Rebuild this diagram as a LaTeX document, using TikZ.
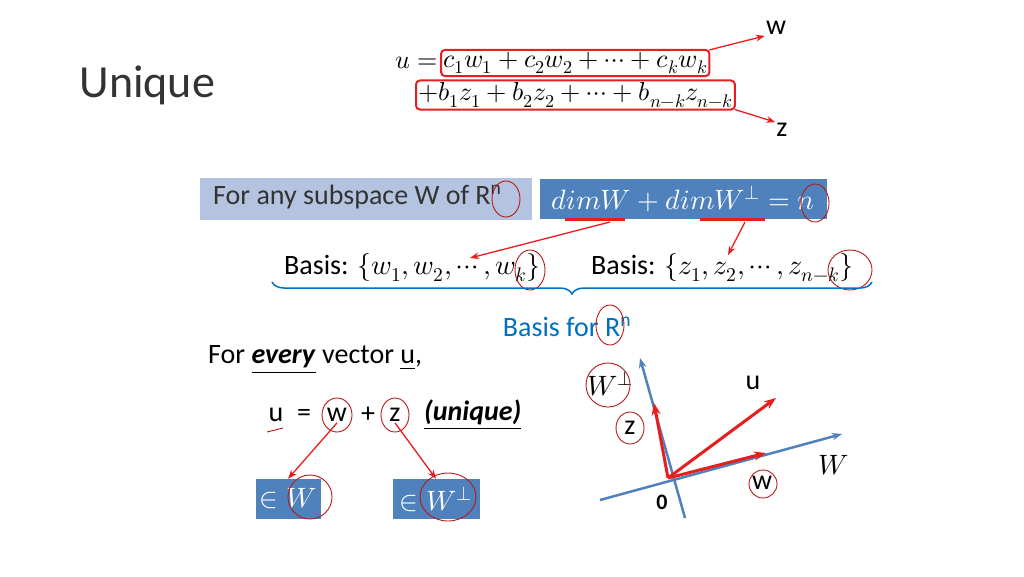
\documentclass[tikz,border=0pt]{standalone}
\usepackage{fontspec}
\usepackage{unicode-math}
\setmainfont{Carlito}
\setmathfont{Latin Modern Math}
\usetikzlibrary{arrows.meta,decorations.pathreplacing}
\definecolor{ppblue}{RGB}{79,129,189}
\definecolor{pplight}{RGB}{180,196,224}
\definecolor{ppred}{RGB}{230,30,30}
\definecolor{pptext}{RGB}{0,112,192}
\tikzset{
  txt/.style={font=\fontsize{28}{32}\selectfont, inner sep=1pt},
  mtxt/.style={font=\fontsize{26}{30}\selectfont, inner sep=2pt},
  redbox/.style={draw=ppred, line width=2pt, rounded corners=4pt},
  redarrow/.style={draw=ppred, line width=1.3pt, -{Stealth[length=9pt]}},
  vecarrow/.style={draw=ppred, line width=3pt, -{Stealth[length=12pt]}},
  axis/.style={draw=ppblue, line width=2.5pt, -{Stealth[length=10pt]}},
  ring/.style={draw=ppred!80!black, line width=0.9pt},
  bluebox/.style={fill=ppblue, text=white, font=\fontsize{28}{32}\selectfont, minimum height=40pt}
}
\begin{document}
\begin{tikzpicture}[x=1pt,y=-1pt]
    \useasboundingbox (0,0) rectangle (1024,576);

    % Title
    \node[anchor=west, font=\fontsize{46}{52}\selectfont, text=black!80] (title) at (76,85) {Unique};

    % Decomposition of u
    \node[mtxt, anchor=east] (ueq) at (440,63) {$u=$};
    \node[mtxt, anchor=west] (wsum) at (441,63) {$c_1w_1+c_2w_2+\cdots+c_kw_k$};
    \node[mtxt, anchor=west] (zsum) at (416,95) {$+b_1z_1+b_2z_2+\cdots+b_{n-k}z_{n-k}$};
    \draw[redbox] (wsum.south west) rectangle (wsum.north east);
    \draw[redbox] (zsum.south west) rectangle (zsum.north east);
    \node[txt] (wlab) at (776,28) {w};
    \node[txt] (zlab) at (782,130) {z};
    \draw[redarrow] (wsum.north east) -- (wlab.south west);
    \draw[redarrow] (zsum.south east) -- (zlab.north west);

    % Boxes
    \node[fill=pplight, minimum width=332pt, minimum height=42pt] (sub) at (366,199) {};
    \node[txt, anchor=west, text=black!80] (subtxt) at (212,197) {For any subspace W of R\textsuperscript{n}};
    \node[bluebox, minimum width=287pt] (dim) at (683,199) {$dimW+dimW^{\perp}=n$};
    \draw[ppred, line width=3pt] (565,219) -- (625,219);
    \draw[ppred, line width=3pt] (700,219) -- (765,219);
    \draw[ring] (506,199) ellipse (14pt and 18pt);
    \draw[ring] (815,203) ellipse (14pt and 19pt);

    % Bases
    \node[txt, anchor=west] (bw) at (283,268) {Basis: $\{w_1,w_2,\cdots,w_k\}$};
    \node[txt, anchor=west] (bz) at (590,268) {Basis: $\{z_1,z_2,\cdots,z_{n-k}\}$};
    \draw[redarrow] (610,222) -- (470,258);
    \draw[redarrow] (745,222) -- (728,255);
    \draw[ring] (530,270) ellipse (15pt and 20pt);
    \draw[ring] (850,270) ellipse (22pt and 20pt);
    \draw[pptext, line width=1.5pt, decorate, decoration={brace, mirror, amplitude=12pt}] (272,282) -- (872,282);
    \node[txt, text=pptext] (bR) at (567,327) {Basis for R\textsuperscript{n}};
    \draw[ring] (610,325) ellipse (14pt and 20pt);

    % Every vector
    \node[txt, anchor=west] (every) at (207,360) {For \underline{\textbf{\textit{every}}} vector \underline{u},};
    \node[txt] (uu) at (276,415) {u};
    \node[txt] (eq) at (304,415) {=};
    \node[txt] (ww) at (337,415) {w};
    \node[txt] (pl) at (368,415) {+};
    \node[txt] (zz) at (395,415) {z};
    \node[txt, anchor=west] (uniq) at (423,415) {\underline{\textbf{\textit{(unique)}}}};
    \draw[ring] (ww) ellipse (15pt and 17pt);
    \draw[ring] (zz) ellipse (14pt and 17pt);
    \draw[ring] (267,432) -- (283,428);

    \node[bluebox, minimum width=65pt] (inW) at (288,499) {$\in W$};
    \node[bluebox, minimum width=87pt] (inWp) at (436,499) {$\in W^{\perp}$};
    \draw[redarrow] (ww.south) -- (inW.north);
    \draw[redarrow] (zz.south) -- (inWp.north);
    \draw[ring] (310,497) ellipse (22pt and 22pt);
    \draw[ring] (448,497) ellipse (28pt and 24pt);

    % Axes and vectors
    \coordinate (O) at (668,478);
    \coordinate (Wlo) at (600,500);
    \coordinate (Wpl) at (685,518);
    \draw[axis] (Wlo) -- (842,434);
    \draw[axis] (Wpl) -- (640,358);
    \draw[vecarrow] (O) -- (776,398);
    \draw[vecarrow] (O) -- (654,403);
    \draw[vecarrow] (O) -- (766,453);
    \node[txt] (Wp) at (610,384) {$W^{\perp}$};
    \node[txt] (ulab) at (753,383) {u};
    \node[txt] (zv) at (630,428) {z};
    \node[txt] (Wl) at (834,465) {$W$};
    \node[txt] (wv) at (762,483) {w};
    \node[txt, font=\fontsize{22}{26}\selectfont\bfseries] (zero) at (662,502) {0};
    \draw[ring] (608,385) ellipse (22pt and 22pt);
    \draw[ring] (630,428) ellipse (14pt and 16pt);
    \draw[ring] (763,484) ellipse (14pt and 14pt);
\end{tikzpicture}
\end{document}
